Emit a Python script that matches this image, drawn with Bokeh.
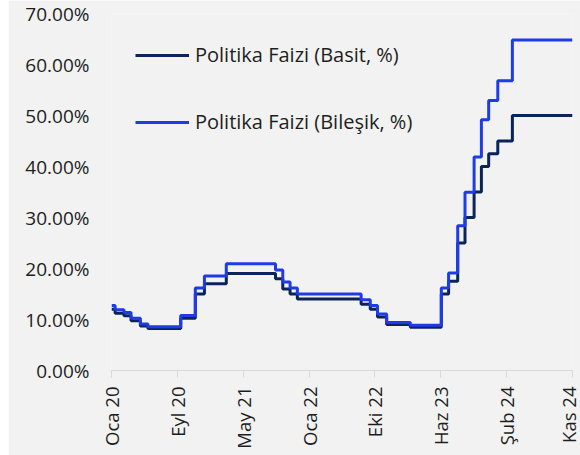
import math
import pandas as pd
from bokeh.plotting import figure
from bokeh.layouts import row
from bokeh.models import (Range1d, FixedTicker, CustomJSTickFormatter, PrintfTickFormatter,
                          Legend, LegendItem, Spacer)
from bokeh.embed import file_html
from bokeh.resources import INLINE

# ---- data ----
change_dates = ["2020-01-02", "2020-01-16", "2020-02-19", "2020-03-17", "2020-04-22", "2020-05-21",
                "2020-09-24", "2020-11-19", "2020-12-24", "2021-03-18", "2021-09-23", "2021-10-21",
                "2021-11-18", "2021-12-16", "2022-08-18", "2022-09-22", "2022-10-20", "2022-11-24",
                "2023-02-23", "2023-06-22", "2023-07-20", "2023-08-24", "2023-09-21", "2023-10-26",
                "2023-11-23", "2023-12-21", "2024-01-25", "2024-03-21", "2024-11-07"]
basit = [12.00, 11.25, 10.75, 9.75, 8.75, 8.25,
         10.25, 15.00, 17.00, 19.00, 18.00, 16.00,
         15.00, 14.00, 13.00, 12.00, 10.50, 9.00,
         8.50, 15.00, 17.50, 25.00, 30.00, 35.00,
         40.00, 42.50, 45.00, 50.00, 50.00]
bilesik = [12.75, 11.90, 11.35, 10.24, 9.14, 8.60,
           10.79, 16.18, 18.53, 20.92, 19.72, 17.35,
           16.18, 15.02, 13.88, 12.75, 11.07, 9.42,
           8.87, 16.18, 19.12, 28.39, 34.97, 41.88,
           49.15, 52.92, 56.79, 64.82, 64.82]
series_names = ["Politika Faizi (Basit, %)", "Politika Faizi (Bileşik, %)"]
tick_dates = ["2020-01-02", "2020-09-11", "2021-05-22", "2022-01-30",
              "2022-10-10", "2023-06-20", "2024-02-27", "2024-11-06"]
tick_labels = ["Oca 20", "Eyl 20", "May 21", "Oca 22", "Eki 22", "Haz 23", "Şub 24", "Kas 24"]
y_ticks = [0, 10, 20, 30, 40, 50, 60, 70]

# ---- styling ----
BG = "#f2f2f2"
FONT = "Open Sans"
TXT = "#1e1e1e"
C_BASIT = "#0b2458"
C_BILESIK = "#1f3be6"

x = pd.to_datetime(change_dates)
tick_ms = [int(t.value // 10**6) for t in pd.to_datetime(tick_dates)]

p = figure(width=572, height=455, x_axis_type="datetime", output_backend="svg",
           toolbar_location=None,
           x_range=Range1d(pd.Timestamp("2020-01-02"), pd.Timestamp("2024-11-07")),
           y_range=Range1d(0, 70),
           min_border_left=103, min_border_right=8, min_border_top=13, min_border_bottom=85)
p.background_fill_color = BG
p.border_fill_color = BG
p.outline_line_color = None
p.grid.visible = False

r1 = p.step(x, basit, mode="after", line_color=C_BASIT, line_width=3)
r2 = p.step(x, bilesik, mode="after", line_color=C_BILESIK, line_width=3)

# x axis
xa = p.xaxis[0]
xa.ticker = FixedTicker(ticks=tick_ms)
xa.formatter = CustomJSTickFormatter(args=dict(labels=tick_labels), code="return labels[index];")
xa.major_label_orientation = math.pi / 2
xa.axis_line_color = "#d9d9d9"
xa.axis_line_width = 1
xa.major_tick_line_color = "#d9d9d9"
xa.major_tick_out = 7
xa.major_tick_in = 0
xa.minor_tick_line_color = None
xa.major_label_standoff = 9
xa.major_label_text_font = FONT
xa.major_label_text_font_size = "18.5px"
xa.major_label_text_color = TXT

# y axis
ya = p.yaxis[0]
ya.ticker = FixedTicker(ticks=y_ticks)
ya.formatter = PrintfTickFormatter(format="%.2f%%")
ya.axis_line_color = None
ya.major_tick_line_color = None
ya.minor_tick_line_color = None
ya.major_tick_out = 0
ya.major_tick_in = 0
ya.major_label_standoff = 22
ya.major_label_text_font = FONT
ya.major_label_text_font_size = "19px"
ya.major_label_text_color = TXT

legend = Legend(items=[LegendItem(label=series_names[0], renderers=[r1]),
                       LegendItem(label=series_names[1], renderers=[r2])],
                location=(24, 235), orientation="vertical",
                padding=0, margin=0, spacing=40,
                glyph_width=54, glyph_height=26, label_height=26, label_standoff=6,
                label_text_font=FONT, label_text_font_size="20px", label_text_color=TXT,
                background_fill_alpha=0, border_line_color=None)
p.add_layout(legend)

layout = row(Spacer(width=8, height=455), p)
open("out.html", "w").write(file_html(layout, INLINE))
